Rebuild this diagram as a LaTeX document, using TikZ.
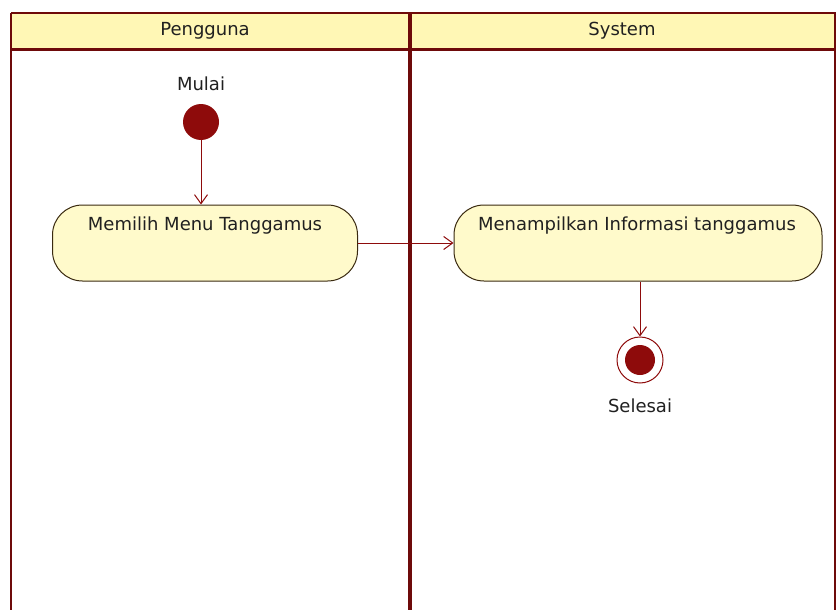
\documentclass[tikz,border=0pt]{standalone}
\usepackage{fontspec}
\setmainfont{DejaVu Sans}
\usetikzlibrary{arrows.meta}
\definecolor{laneline}{HTML}{6E0A0A}
\definecolor{headfill}{HTML}{FFF7B5}
\definecolor{actfill}{HTML}{FFFACB}
\definecolor{actline}{HTML}{3A2A10}
\definecolor{dotred}{HTML}{8E0B0B}
\definecolor{txt}{HTML}{202020}
\tikzset{
  lbl/.style={font=\fontsize{18}{20}\selectfont, text=txt, inner sep=0pt},
  actbox/.style={draw=actline, line width=1pt, fill=actfill, rounded corners=30pt,
    minimum height=76pt, inner sep=0pt},
  flow/.style={draw=dotred, line width=1pt, -{Straight Barb[length=9pt,width=13pt,line width=1pt]}},
  lane/.style={draw=laneline, line width=3pt},
}
\begin{document}
\begin{tikzpicture}[x=1pt,y=-1pt]
\useasboundingbox (0,0) rectangle (838,610);
\fill[white] (0,0) rectangle (838,610);
% header band
\fill[headfill] (11,13) rectangle (836,50);
\draw[lane] (11,50) -- (836,50);
\draw[lane, line width=2.5pt] (11,13) -- (836,13);
% lane borders
\draw[lane, line width=2.5pt] (11,13) -- (11,612);
\draw[lane, line width=2.5pt] (835,13) -- (835,612);
\draw[lane, line width=4.5pt] (410,13) -- (410,612);
\node[lbl] (hu) at (205,31) {Pengguna};
\node[lbl] (hs) at (622,31) {System};
% start
\node[lbl] (mulai) at (201,84) {Mulai};
\node[circle, fill=dotred, minimum size=36pt, inner sep=0pt] (start) at (201,122) {};
% actions
\node[actbox, minimum width=305pt] (a1) at (205,243) {};
\node[lbl, anchor=center] (t1) at (205,226) {Memilih Menu Tanggamus};
\node[actbox, minimum width=368pt] (a2) at (638,243) {};
\node[lbl, anchor=center] (t2) at (637,226) {Menampilkan Informasi tanggamus};
% end
\node[circle, draw=dotred, line width=1pt, fill=white, minimum size=46pt, inner sep=0pt] (fin) at (640,360) {};
\node[circle, fill=dotred, minimum size=30pt, inner sep=0pt] (findot) at (fin) {};
\node[lbl] (selesai) at (640,406) {Selesai};
% flows
\draw[flow] (start.south) -- (a1.north -| start.south);
\draw[flow] (a1.east) -- (a2.west);
\draw[flow] (a2.south -| fin.north) -- (fin.north);
\end{tikzpicture}
\end{document}
